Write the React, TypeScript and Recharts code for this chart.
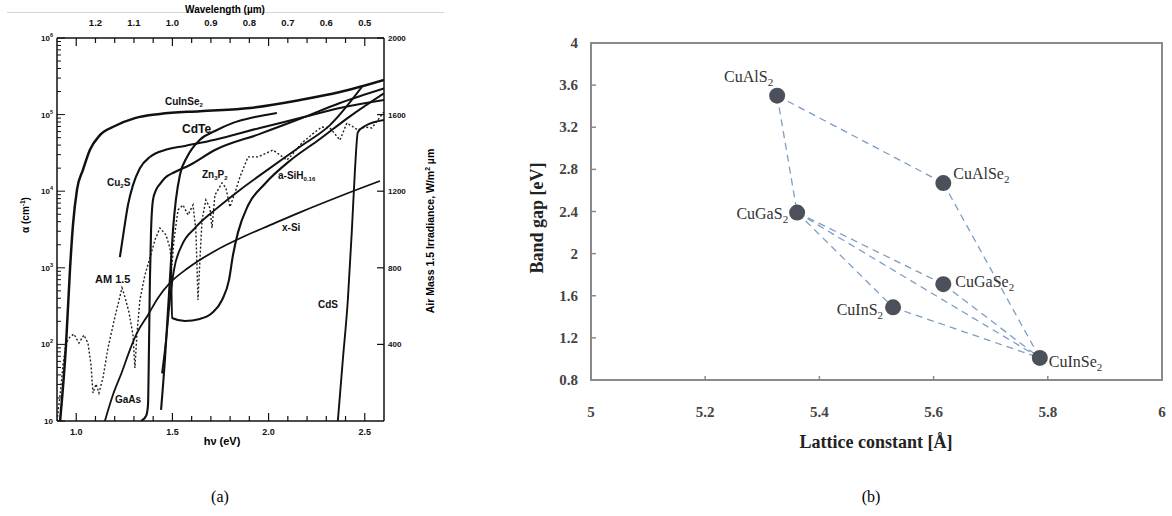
import React from 'react'
import { LineChart, Line, XAxis, YAxis, ComposedChart, Scatter, ReferenceLine, ReferenceArea, LabelList } from 'recharts'

// ---------- panel (a): absorption coefficient vs photon energy ----------
const cuInSe2 = [
  { e: 0.916, a: 10 }, { e: 0.947, a: 100 }, { e: 0.968, a: 1.0e3 }, { e: 0.983, a: 3.6e3 },
  { e: 1.004, a: 1.05e4 }, { e: 1.035, a: 1.9e4 }, { e: 1.072, a: 3.5e4 }, { e: 1.123, a: 5.4e4 },
  { e: 1.201, a: 7.1e4 }, { e: 1.305, a: 9.0e4 }, { e: 1.435, a: 1.02e5 }, { e: 1.643, a: 1.11e5 },
  { e: 1.903, a: 1.22e5 }, { e: 2.163, a: 1.55e5 }, { e: 2.371, a: 1.97e5 }, { e: 2.6, a: 2.83e5 },
]
const cu2S = [
  { e: 1.227, a: 1.38e3 }, { e: 1.248, a: 3.1e3 }, { e: 1.269, a: 6.6e3 }, { e: 1.295, a: 1.2e4 },
  { e: 1.331, a: 2.0e4 }, { e: 1.383, a: 2.8e4 }, { e: 1.461, a: 3.45e4 }, { e: 1.565, a: 3.9e4 },
  { e: 1.721, a: 4.7e4 }, { e: 1.955, a: 6.7e4 }, { e: 2.163, a: 9.0e4 }, { e: 2.371, a: 1.22e5 },
  { e: 2.6, a: 1.55e5 },
]
const gaAs = [
  { e: 1.337, a: 10 }, { e: 1.363, a: 11.6 }, { e: 1.373, a: 16 }, { e: 1.378, a: 85 },
  { e: 1.383, a: 690 }, { e: 1.389, a: 3.1e3 }, { e: 1.399, a: 7.7e3 }, { e: 1.415, a: 1.04e4 },
  { e: 1.435, a: 1.24e4 }, { e: 1.461, a: 1.49e4 }, { e: 1.513, a: 1.78e4 }, { e: 1.591, a: 2.2e4 },
  { e: 1.721, a: 3.45e4 }, { e: 1.955, a: 5.6e4 }, { e: 2.163, a: 8.8e4 }, { e: 2.371, a: 1.42e5 },
  { e: 2.6, a: 2.2e5 },
]
const cdTe = [
  { e: 1.441, a: 14 }, { e: 1.461, a: 63 }, { e: 1.477, a: 281 }, { e: 1.493, a: 1.26e3 },
  { e: 1.503, a: 3.1e3 }, { e: 1.518, a: 7.7e3 }, { e: 1.539, a: 1.63e4 }, { e: 1.576, a: 2.8e4 },
  { e: 1.643, a: 4.7e4 }, { e: 1.721, a: 6.1e4 }, { e: 1.815, a: 7.8e4 }, { e: 1.929, a: 9.3e4 },
  { e: 2.043, a: 1.05e5 },
]
const zn3P2 = [
  { e: 1.446, a: 42 }, { e: 1.467, a: 114 }, { e: 1.487, a: 380 }, { e: 1.508, a: 935 },
  { e: 1.55, a: 1.99e3 }, { e: 1.617, a: 3.3e3 }, { e: 1.721, a: 5.7e3 }, { e: 1.851, a: 1.04e4 },
  { e: 2.007, a: 2.0e4 }, { e: 2.163, a: 3.8e4 }, { e: 2.319, a: 7.3e4 }, { e: 2.485, a: 2.3e5 },
]
const aSiH = [
  { e: 1.493, a: 1.19e3 }, { e: 1.498, a: 221 }, { e: 1.565, a: 202 }, { e: 1.643, a: 215 },
  { e: 1.706, a: 257 }, { e: 1.758, a: 380 }, { e: 1.794, a: 690 }, { e: 1.815, a: 1.47e3 },
  { e: 1.841, a: 2.9e3 }, { e: 1.893, a: 6.5e3 }, { e: 1.981, a: 1.25e4 }, { e: 2.111, a: 2.5e4 },
  { e: 2.267, a: 4.8e4 }, { e: 2.423, a: 9.5e4 }, { e: 2.6, a: 1.9e5 },
]
const xSi = [
  { e: 1.149, a: 10 }, { e: 1.191, a: 22 }, { e: 1.238, a: 44 }, { e: 1.279, a: 85 },
  { e: 1.316, a: 141 }, { e: 1.373, a: 242 }, { e: 1.425, a: 404 }, { e: 1.487, a: 634 },
  { e: 1.581, a: 993 }, { e: 1.721, a: 1.66e3 }, { e: 1.877, a: 2.6e3 }, { e: 2.007, a: 3.6e3 },
  { e: 2.163, a: 5.3e3 }, { e: 2.371, a: 8.6e3 }, { e: 2.579, a: 1.36e4 },
]
const cdS = [
  { e: 2.36, a: 10 }, { e: 2.386, a: 63 }, { e: 2.412, a: 380 }, { e: 2.433, a: 3.1e3 },
  { e: 2.449, a: 1.89e4 }, { e: 2.464, a: 5.9e4 }, { e: 2.501, a: 7.1e4 }, { e: 2.6, a: 8.5e4 },
]
// AM 1.5 irradiance, W/m2 um (right axis)
const am15 = [
  { e: 0.9, w: 0 }, { e: 0.916, w: 136 }, { e: 0.931, w: 292 }, { e: 0.947, w: 407 }, { e: 0.968, w: 439 },
  { e: 0.988, w: 454 }, { e: 1.014, w: 407 }, { e: 1.04, w: 449 }, { e: 1.061, w: 407 }, { e: 1.077, w: 292 },
  { e: 1.087, w: 146 }, { e: 1.103, w: 193 }, { e: 1.118, w: 146 }, { e: 1.139, w: 225 }, { e: 1.165, w: 381 },
  { e: 1.201, w: 543 }, { e: 1.238, w: 695 }, { e: 1.253, w: 648 }, { e: 1.274, w: 569 }, { e: 1.295, w: 449 },
  { e: 1.305, w: 277 }, { e: 1.316, w: 460 }, { e: 1.331, w: 632 }, { e: 1.357, w: 762 }, { e: 1.383, w: 851 },
  { e: 1.409, w: 945 }, { e: 1.435, w: 1008 }, { e: 1.467, w: 971 }, { e: 1.487, w: 903 }, { e: 1.498, w: 815 },
  { e: 1.508, w: 945 }, { e: 1.529, w: 1102 }, { e: 1.555, w: 1128 }, { e: 1.581, w: 1076 }, { e: 1.607, w: 1128 },
  { e: 1.622, w: 997 }, { e: 1.633, w: 632 }, { e: 1.643, w: 841 }, { e: 1.654, w: 1050 }, { e: 1.674, w: 1154 },
  { e: 1.695, w: 1112 }, { e: 1.706, w: 1008 }, { e: 1.721, w: 1180 }, { e: 1.758, w: 1243 }, { e: 1.778, w: 1217 },
  { e: 1.799, w: 1118 }, { e: 1.825, w: 1191 }, { e: 1.851, w: 1274 }, { e: 1.893, w: 1379 }, { e: 1.945, w: 1379 },
  { e: 2.023, w: 1415 }, { e: 2.095, w: 1363 }, { e: 2.121, w: 1389 }, { e: 2.173, w: 1452 }, { e: 2.241, w: 1509 },
  { e: 2.277, w: 1535 }, { e: 2.319, w: 1530 }, { e: 2.371, w: 1467 }, { e: 2.407, w: 1556 }, { e: 2.464, w: 1520 },
  { e: 2.501, w: 1535 }, { e: 2.537, w: 1530 }, { e: 2.568, w: 1572 }, { e: 2.6, w: 1614 },
]

const energyTicks = [1.0, 1.1, 1.2, 1.3, 1.4, 1.5, 1.6, 1.7, 1.8, 1.9, 2.0, 2.1, 2.2, 2.3, 2.4, 2.5]
const energyLabels = [1.0, 1.5, 2.0, 2.5]
const wavePos = [1.1, 1.3, 1.5, 1.7, 1.9, 2.1, 2.3, 2.5]
const waveLabels = ['1.2', '1.1', '1.0', '0.9', '0.8', '0.7', '0.6', '0.5']
const alphaDecades = [10, 100, 1e3, 1e4, 1e5, 1e6]
const alphaTicks = [...alphaDecades.slice(0, -1).flatMap(d => [1, 2, 3, 4, 5, 6, 7, 8, 9].map(k => k * d)), 1e6]
const irrTicks = [400, 800, 1200, 1600, 2000]

const curves = [
  { key: 'CuInSe2', data: cuInSe2, w: 2.5 },
  { key: 'Cu2S', data: cu2S, w: 2.1 },
  { key: 'GaAs', data: gaAs, w: 2.1 },
  { key: 'CdTe', data: cdTe, w: 2.1 },
  { key: 'Zn3P2', data: zn3P2, w: 1.9 },
  { key: 'aSiH', data: aSiH, w: 2.1 },
  { key: 'xSi', data: xSi, w: 1.8 },
  { key: 'CdS', data: cdS, w: 1.9 },
]

// ---------- panel (b): band gap vs lattice constant ----------
const compounds = ['CuAlS2', 'CuAlSe2', 'CuGaS2', 'CuGaSe2', 'CuInS2', 'CuInSe2']
const latticeA = [5.326, 5.617, 5.361, 5.617, 5.529, 5.786]
const bandGap = [3.5, 2.67, 2.39, 1.71, 1.49, 1.01]
const tieLines = [
  ['CuAlS2', 'CuAlSe2'], ['CuAlS2', 'CuGaS2'], ['CuAlSe2', 'CuInSe2'], ['CuGaS2', 'CuGaSe2'],
  ['CuGaS2', 'CuInS2'], ['CuGaS2', 'CuInSe2'], ['CuGaSe2', 'CuInSe2'], ['CuInS2', 'CuInSe2'],
]
const latticeTicks = [5, 5.2, 5.4, 5.6, 5.8, 6]
const gapTicks = [0.8, 1.2, 1.6, 2, 2.4, 2.8, 3.2, 3.6, 4]

const points = compounds.map((name, i) => ({ name, a: latticeA[i], eg: bandGap[i] }))
const pt = (n: string) => points.find(p => p.name === n)!

// label placement around each marker (dx, dy, anchor)
const labelPos: Record<string, [number, number, string]> = {
  CuAlS2: [-4, -14, 'end'],
  CuAlSe2: [10, -4, 'start'],
  CuGaS2: [-9, 6, 'end'],
  CuGaSe2: [12, 3, 'start'],
  CuInS2: [-10, 8, 'end'],
  CuInSe2: [9, 9, 'start'],
}

const SANS = 'Liberation Sans, Arial, sans-serif'
const SERIF = 'Liberation Serif, Times New Roman, serif'
const near = (a: number, b: number) => Math.abs(a - b) < Math.max(1e-6, Math.abs(b) * 1e-6)

function EnergyTick({ x, y, payload }: any) {
  const v = payload.value
  const major = energyLabels.some(l => near(v, l))
  return (
    <g>
      <line x1={x} x2={x} y1={y} y2={y - (major ? 8 : 5)} stroke="#111" strokeWidth={1.2} />
      {major && (
        <text x={x} y={y + 14} textAnchor="middle" fontSize={9} fontWeight="bold" fontFamily={SANS} fill="#111">
          {v.toFixed(1)}
        </text>
      )}
    </g>
  )
}

function WaveTick({ x, y, payload }: any) {
  const v = payload.value
  const major = energyLabels.some(l => near(v, l))
  const i = wavePos.findIndex(p => near(v, p))
  return (
    <g>
      <line x1={x} x2={x} y1={y} y2={y + (major ? 8 : 5)} stroke="#111" strokeWidth={1.2} />
      {i >= 0 && (
        <text x={x} y={y - 12} textAnchor="middle" fontSize={9.5} fontWeight="bold" fontFamily={SANS} fill="#111">
          {waveLabels[i]}
        </text>
      )}
    </g>
  )
}

function AlphaTick({ x, y, payload }: any) {
  const v = payload.value
  const major = alphaDecades.some(d => near(v, d))
  const exp = Math.round(Math.log10(v))
  return (
    <g>
      <line x1={x} x2={x + (major ? 8 : 4)} y1={y} y2={y} stroke="#111" strokeWidth={1} />
      {major && (
        <text x={x - 4} y={y + 3} textAnchor="end" fontSize={8} fontWeight="bold" fontFamily={SANS} fill="#111">
          10{exp > 1 && <tspan dy={-4} fontSize={5.5}>{exp}</tspan>}
        </text>
      )}
    </g>
  )
}

function IrrTick({ x, y, payload }: any) {
  return (
    <g>
      <line x1={x} x2={x - 7} y1={y} y2={y} stroke="#111" strokeWidth={1.2} />
      <text x={x + 4} y={y + 3} fontSize={8} fontWeight="bold" fontFamily={SANS} fill="#111">
        {payload.value}
      </text>
    </g>
  )
}

function GapTick({ x, y, payload }: any) {
  return (
    <g>
      <line x1={x} x2={x + 5} y1={y} y2={y} stroke="#8a8a8a" strokeWidth={1.5} />
      <text x={x - 13} y={y + 5} textAnchor="end" fontSize={15} fontWeight="bold" fontFamily={SERIF} fill="#444">
        {payload.value}
      </text>
    </g>
  )
}

function LatticeTick({ x, y, payload }: any) {
  return (
    <g>
      <line x1={x} x2={x} y1={y} y2={y - 4} stroke="#8a8a8a" strokeWidth={1.5} />
      <text x={x} y={y + 37} textAnchor="middle" fontSize={15} fontWeight="bold" fontFamily={SERIF} fill="#444">
        {payload.value}
      </text>
    </g>
  )
}

function PointLabel({ x, y, width, height, value }: any) {
  const [dx, dy, anchor] = labelPos[value]
  const cx = x + (width || 0) / 2
  const cy = y + (height || 0) / 2
  return (
    <text x={cx + dx} y={cy + dy} textAnchor={anchor} fontSize={16} fontFamily={SERIF} fill="#333">
      {value.slice(0, -1)}
      <tspan fontSize={11} dy={4}>2</tspan>
    </text>
  )
}

const Dot = (p: any) => <circle cx={p.cx} cy={p.cy} r={8} fill="#4b505b" />

const tag = (x: number, y: number, size: number, children: any) => (
  <div style={{ position: 'absolute', left: x, top: y - size / 2, fontSize: size, lineHeight: 1, fontWeight: 'bold', fontFamily: SANS, color: '#111', whiteSpace: 'nowrap' }}>
    {children}
  </div>
)
const sub = (t: string) => <span style={{ fontSize: '0.6em', position: 'relative', top: '0.35em' }}>{t}</span>

export default function App() {
  return (
    <div style={{ position: 'absolute', left: 0, top: 0, width: 1172, height: 516, background: '#fff', overflow: 'hidden' }}>
      {/* panel (a) */}
      <div style={{ position: 'absolute', left: 7, top: 12, width: 437, borderTop: '1px solid #d4d4d4' }} />
      <div style={{ position: 'absolute', left: 225, top: 9, transform: 'translate(-50%,-50%)', fontSize: 10, fontWeight: 'bold', fontFamily: SANS, whiteSpace: 'nowrap' }}>
        Wavelength (µm)
      </div>
      <div style={{ position: 'absolute', left: 0, top: 0 }}>
        <LineChart width={460} height={470} margin={{ top: 13, right: 26, bottom: 19, left: 12 }}>
          <XAxis xAxisId="bottom" type="number" dataKey="e" domain={[0.9, 2.6]} allowDataOverflow ticks={energyTicks}
            interval={0} tickSize={0} tickMargin={0} tick={EnergyTick} height={30} axisLine={{ stroke: '#111', strokeWidth: 1.5 }} />
          <XAxis xAxisId="top" orientation="top" type="number" dataKey="e" domain={[0.9, 2.6]} allowDataOverflow ticks={energyTicks}
            interval={0} tickSize={0} tickMargin={0} tick={WaveTick} height={25} axisLine={{ stroke: '#111', strokeWidth: 1.5 }} />
          <YAxis yAxisId="alpha" scale="log" type="number" domain={[10, 1e6]} allowDataOverflow ticks={alphaTicks}
            interval={0} tickSize={0} tickMargin={0} tick={AlphaTick} width={45} axisLine={{ stroke: '#111', strokeWidth: 1.5 }} />
          <YAxis yAxisId="irr" orientation="right" type="number" domain={[0, 2000]} allowDataOverflow ticks={irrTicks}
            interval={0} tickSize={0} tickMargin={0} tick={IrrTick} width={50} axisLine={{ stroke: '#111', strokeWidth: 1.5 }} />
          <Line xAxisId="top" yAxisId="irr" data={am15} dataKey="w" type="linear" stroke="#222" strokeWidth={1.4}
            strokeDasharray="2 2" dot={false} isAnimationActive={false} />
          {curves.map(c => (
            <Line key={c.key} xAxisId="bottom" yAxisId="alpha" data={c.data} dataKey="a" type="monotone" stroke="#111"
              strokeWidth={c.w} dot={false} isAnimationActive={false} />
          ))}
        </LineChart>
      </div>
      {tag(165, 102, 10, <>CuInSe{sub('2')}</>)}
      {tag(182, 129, 12, 'CdTe')}
      {tag(107, 183, 10, <>Cu{sub('2')}S</>)}
      {tag(202, 175, 10, <>Zn{sub('3')}P{sub('2')}</>)}
      {tag(278, 176, 10, <>a-SiH{sub('0.16')}</>)}
      {tag(282, 228, 10, 'x-Si')}
      {tag(95, 279, 11, 'AM 1.5')}
      {tag(115, 400, 10, 'GaAs')}
      {tag(318, 305, 10, 'CdS')}
      <div style={{ position: 'absolute', left: 222, top: 441, transform: 'translate(-50%,-50%)', fontSize: 11, fontWeight: 'bold', fontFamily: SANS, whiteSpace: 'nowrap' }}>
        hν (eV)
      </div>
      <div style={{ position: 'absolute', left: 25, top: 215, transform: 'translate(-50%,-50%) rotate(-90deg)', fontSize: 10, fontWeight: 'bold', fontFamily: SANS, whiteSpace: 'nowrap' }}>
        α (cm<sup style={{ fontSize: '0.65em' }}>-1</sup>)
      </div>
      <div style={{ position: 'absolute', left: 430, top: 231, transform: 'translate(-50%,-50%) rotate(-90deg)', fontSize: 10.5, fontWeight: 'bold', fontFamily: SANS, whiteSpace: 'nowrap' }}>
        Air Mass 1.5 Irradiance, W/m<sup style={{ fontSize: '0.65em' }}>2</sup> µm
      </div>

      {/* panel (b) */}
      <div style={{ position: 'absolute', left: 500, top: 0 }}>
        <ComposedChart width={672} height={470} margin={{ top: 43, right: 10, bottom: 50, left: 51 }}>
          <XAxis type="number" dataKey="a" domain={[5, 6]} allowDataOverflow ticks={latticeTicks} interval={0}
            tickSize={0} tickMargin={0} tick={LatticeTick} height={40} axisLine={false} />
          <YAxis type="number" dataKey="eg" domain={[0.8, 4]} allowDataOverflow ticks={gapTicks} interval={0}
            tickSize={0} tickMargin={0} tick={GapTick} width={40} axisLine={false} />
          <ReferenceArea x1={5} x2={6} y1={0.8} y2={4} fill="none" stroke="#8a8a8a" strokeWidth={2} />
          {tieLines.map(([p, q]) => (
            <ReferenceLine key={p + q} segment={[{ x: pt(p).a, y: pt(p).eg }, { x: pt(q).a, y: pt(q).eg }]}
              stroke="#7d9dc6" strokeWidth={1.3} strokeDasharray="7 5" />
          ))}
          <Scatter data={points} dataKey="eg" shape={Dot} isAnimationActive={false}>
            <LabelList dataKey="name" content={PointLabel} />
          </Scatter>
        </ComposedChart>
      </div>
      <div style={{ position: 'absolute', left: 537, top: 218, transform: 'translate(-50%,-50%) rotate(-90deg)', fontSize: 18, fontWeight: 'bold', fontFamily: SERIF, color: '#222', whiteSpace: 'nowrap' }}>
        Band gap [eV]
      </div>
      <div style={{ position: 'absolute', left: 876, top: 442, transform: 'translate(-50%,-50%)', fontSize: 18, fontWeight: 'bold', fontFamily: SERIF, color: '#222', whiteSpace: 'nowrap' }}>
        Lattice constant [Å]
      </div>

      <div style={{ position: 'absolute', left: 220, top: 497, transform: 'translate(-50%,-50%)', fontSize: 16, fontFamily: SERIF }}>(a)</div>
      <div style={{ position: 'absolute', left: 871, top: 497, transform: 'translate(-50%,-50%)', fontSize: 16, fontFamily: SERIF }}>(b)</div>
    </div>
  )
}
